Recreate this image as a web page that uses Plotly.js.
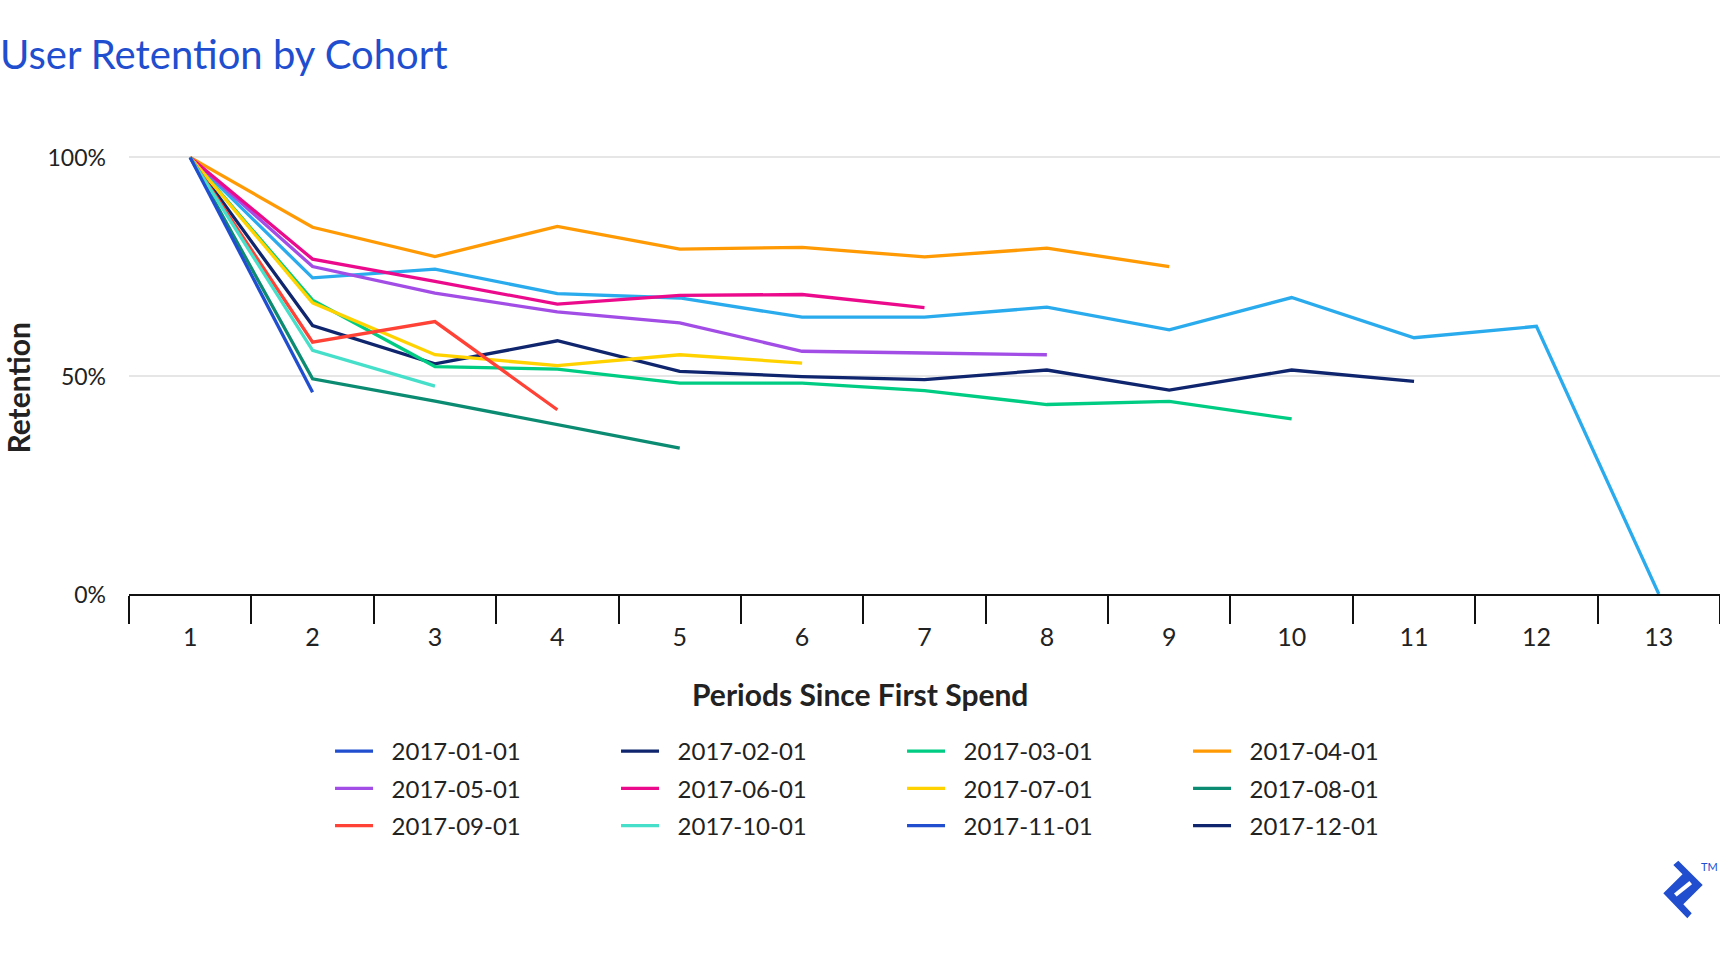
<!DOCTYPE html>
<html>
<head>
<meta charset="utf-8">
<script src="https://cdn.plot.ly/plotly-3.0.1.min.js"></script>
<style>
  html, body { margin: 0; padding: 0; background: #ffffff; }
  #chart { width: 1720px; height: 960px; }
</style>
</head>
<body>
<div id="chart"></div>
<script>
// ---- Data ----
const periods = [1, 2, 3, 4, 5, 6, 7, 8, 9, 10, 11, 12, 13];
const cohorts = ['2017-01-01', '2017-02-01', '2017-03-01', '2017-04-01',
                 '2017-05-01', '2017-06-01', '2017-07-01', '2017-08-01',
                 '2017-09-01', '2017-10-01', '2017-11-01', '2017-12-01'];

const ret_2017_01 = [1.00, 0.724, 0.744, 0.688, 0.678, 0.634, 0.634, 0.657, 0.605, 0.679, 0.587, 0.613, 0.000];
const ret_2017_02 = [1.00, 0.615, 0.527, 0.580, 0.510, 0.498, 0.491, 0.513, 0.467, 0.513, 0.487];
const ret_2017_03 = [1.00, 0.673, 0.521, 0.515, 0.483, 0.483, 0.466, 0.434, 0.441, 0.401];
const ret_2017_04 = [1.00, 0.840, 0.773, 0.842, 0.790, 0.794, 0.772, 0.792, 0.750];
const ret_2017_05 = [1.00, 0.750, 0.689, 0.646, 0.621, 0.556, 0.552, 0.548];
const ret_2017_06 = [1.00, 0.767, 0.716, 0.664, 0.684, 0.686, 0.656];
const ret_2017_07 = [1.00, 0.667, 0.548, 0.523, 0.548, 0.529];
const ret_2017_08 = [1.00, 0.493, 0.442, 0.388, 0.334];
const ret_2017_09 = [1.00, 0.577, 0.624, 0.422];
const ret_2017_10 = [1.00, 0.558, 0.476];
const ret_2017_11 = [1.00, 0.462];
const ret_2017_12 = [1.00];

const seriesValues = [ret_2017_01, ret_2017_02, ret_2017_03, ret_2017_04, ret_2017_05, ret_2017_06,
                      ret_2017_07, ret_2017_08, ret_2017_09, ret_2017_10, ret_2017_11, ret_2017_12];

const yTickVals = [0, 0.5, 1];

// ---- Styles ----
const legendColors = ['#204ECF', '#0F256E', '#00CC83', '#FF9A05', '#A24DE5', '#EC0A8C',
                      '#FFD200', '#0B8C72', '#FF4136', '#46DFCA', '#204ECF', '#0F256E'];
const firstCohortLineColor = '#2AABEE';
const FONT = 'Lato, "Open Sans", sans-serif';
const TEXT = '#222222';
const LEGEND_PAD = '\u2002\u200A'; // visual gap between legend key and label

// layout geometry
const W = 1720, H = 960;
const M = {l: 128.5, r: 0, t: 140, b: 366};
const plotW = W - M.l - M.r, plotH = H - M.t - M.b;
const px2x = X => (X - M.l) / plotW;
const px2y = Y => (H - M.b - Y) / plotH;

const legendIds = ['legend', 'legend', 'legend', 'legend',
                   'legend2', 'legend2', 'legend2', 'legend2',
                   'legend3', 'legend3', 'legend3', 'legend3'];

const traces = [];
cohorts.forEach((c, i) => {
  const vals = seriesValues[i];
  if (i === 0) {
    // first cohort: line drawn in sky blue, legend key shown in royal blue
    traces.push({
      type: 'scatter', mode: 'lines', name: c, showlegend: false,
      x: periods.slice(0, vals.length), y: vals,
      line: {color: firstCohortLineColor, width: 3.3},
      hoverinfo: 'x+y+name'
    });
    traces.push({
      type: 'scatter', mode: 'lines', name: LEGEND_PAD + c, legend: legendIds[i],
      x: [null], y: [null],
      line: {color: legendColors[i], width: 3.3}
    });
  } else {
    traces.push({
      type: 'scatter', mode: 'lines', name: LEGEND_PAD + c, legend: legendIds[i],
      x: periods.slice(0, vals.length), y: vals,
      line: {color: legendColors[i], width: 3.3},
      hovertemplate: c + ': %{y:.0%}<extra></extra>'
    });
  }
});

const legendBase = {
  orientation: 'h', xanchor: 'left', yanchor: 'middle',
  x: px2x(329.6),
  entrywidth: 233, entrywidthmode: 'pixels',
  itemwidth: 38,
  font: {family: FONT, size: 24, color: TEXT},
  bgcolor: 'rgba(0,0,0,0)', borderwidth: 0,
  itemclick: false, itemdoubleclick: false
};

// Toptal-style logo (decorative), pixel coordinates -> paper
const logoOuter = [[1673.3, 865], [1678.3, 860.7], [1702.7, 885], [1683.3, 904.3],
                   [1691.7, 913.3], [1687.3, 918.3], [1663.3, 893.3], [1682.5, 874.2]];
const logoSlot = [[1674, 893.5], [1676.6, 896.6], [1692, 884.2], [1689.4, 881]];
const toPath = pts => 'M' + pts.map(p => px2x(p[0]).toFixed(5) + ',' + px2y(p[1]).toFixed(5)).join('L') + 'Z';

const layout = {
  width: W, height: H,
  margin: M,
  paper_bgcolor: '#ffffff', plot_bgcolor: '#ffffff',
  font: {family: FONT, color: TEXT},
  showlegend: true,
  title: {
    text: 'User Retention by Cohort',
    x: 0, xref: 'container', xanchor: 'left',
    y: 1 - 55 / H, yref: 'container', yanchor: 'middle',
    pad: {l: 0, r: 0, t: 0, b: 0},
    font: {family: FONT, size: 40, color: '#204ECF'}
  },
  xaxis: {
    type: 'category',
    categoryorder: 'array', categoryarray: periods,
    range: [-0.5, periods.length - 0.5],
    tickson: 'boundaries',
    ticks: 'outside', ticklen: 28, tickwidth: 1.5, tickcolor: '#111111',
    ticklabelstandoff: 20,
    showline: true, linecolor: '#111111', linewidth: 2,
    showgrid: false, zeroline: false,
    tickfont: {family: FONT, size: 25, color: TEXT},
    automargin: false, fixedrange: true
  },
  yaxis: {
    range: [0, plotH / 436.6],
    tickvals: yTickVals, tickformat: '.0%',
    ticks: '', ticklabelstandoff: 22, ticklabelshift: 1,
    showgrid: true, gridcolor: '#E6E6E6', gridwidth: 1.6,
    zeroline: false, showline: false,
    tickfont: {family: FONT, size: 23, color: TEXT},
    automargin: false, fixedrange: true
  },
  legend: Object.assign({}, legendBase, {y: px2y(751.5)}),
  legend2: Object.assign({}, legendBase, {y: px2y(788.8)}),
  legend3: Object.assign({}, legendBase, {y: px2y(826)}),
  annotations: [
    {
      text: 'Periods Since First Spend', showarrow: false,
      xref: 'paper', yref: 'paper', x: px2x(860), y: px2y(694),
      xanchor: 'center', yanchor: 'middle',
      font: {family: FONT, size: 30, weight: 700, color: TEXT}
    },
    {
      text: 'Retention', showarrow: false, textangle: -90,
      xref: 'paper', yref: 'paper', x: px2x(17), y: px2y(388),
      xanchor: 'center', yanchor: 'middle',
      font: {family: FONT, size: 30, weight: 700, color: TEXT}
    },
    {
      text: 'TM', showarrow: false,
      xref: 'paper', yref: 'paper', x: px2x(1709), y: px2y(866),
      xanchor: 'center', yanchor: 'middle',
      font: {family: FONT, size: 11, color: '#204ECF'}
    }
  ],
  shapes: [
    {type: 'path', xref: 'paper', yref: 'paper', path: toPath(logoOuter),
     fillcolor: '#204ECF', line: {width: 0}, layer: 'above'},
    {type: 'path', xref: 'paper', yref: 'paper', path: toPath(logoSlot),
     fillcolor: '#ffffff', line: {width: 0}, layer: 'above'}
  ]
};

Plotly.newPlot('chart', traces, layout, {displayModeBar: false, staticPlot: false, responsive: false});
</script>
</body>
</html>
